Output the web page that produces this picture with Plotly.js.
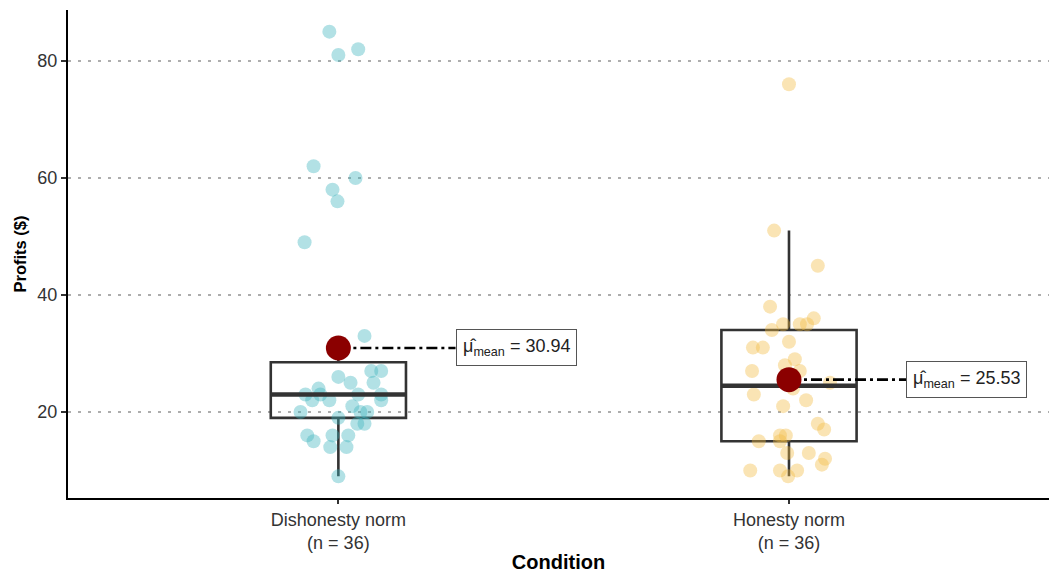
<!DOCTYPE html>
<html>
<head>
<meta charset="utf-8">
<script src="https://cdn.plot.ly/plotly-3.0.1.min.js"></script>
<style>html,body{margin:0;padding:0;background:#fff;}#chart{width:1049px;height:573px;}</style>
</head>
<body>
<div id="chart"></div>
<script>
// ---- data ----
const categories = ["Dishonesty norm", "Honesty norm"];
const tickLabels = ["Dishonesty norm<br>(n = 36)", "Honesty norm<br>(n = 36)"];
const catPos = [1, 2];

const dishonestyProfits = [85, 82, 81, 62, 60, 58, 56, 49, 33, 27, 26, 27, 25, 24, 25, 23, 23, 23, 23,
  22, 22, 22, 20, 20, 20, 21, 19, 18, 18, 16, 16, 16, 15, 14, 14, 9];
const dishonestyJitter = [-0.020, 0.044, 0.000, -0.055, 0.038, -0.013, -0.002, -0.075, 0.058, 0.095, 0.000,
  0.073, 0.078, -0.044, 0.027, -0.073, -0.040, 0.044, 0.095, -0.058, -0.020, 0.095, -0.084, 0.049, 0.064,
  0.031, 0.000, 0.042, 0.058, -0.069, -0.013, 0.022, -0.055, -0.018, 0.018, 0.000];

const honestyProfits = [76, 51, 45, 38, 36, 35, 35, 35, 34, 32, 31, 31, 29, 28, 27, 27, 26, 25, 24, 23, 22, 21,
  18, 17, 16, 16, 15, 15, 13, 13, 12, 11, 10, 10, 10, 9];
const honestyJitter = [0.000, -0.033, 0.064, -0.042, 0.055, -0.013, 0.024, 0.040, -0.038, 0.000, -0.080, -0.058,
  0.013, -0.009, -0.082, 0.024, 0.002, 0.091, 0.009, -0.078, 0.038, -0.013, 0.064, 0.078, -0.020, -0.007,
  -0.067, -0.020, -0.004, 0.044, 0.080, 0.073, -0.086, -0.020, 0.018, -0.002];

// box summary
const q1 = [19, 15];
const medians = [23, 24.5];
const q3 = [28.5, 34];
const lowerWhisker = [9, 9];
const upperWhisker = [33, 51];

const means = [30.94, 25.53];
const meanLabels = ["30.94", "25.53"];

// ---- styles ----
const pointColors = ["rgba(62,180,190,0.4)", "rgba(242,187,67,0.4)"];
const boxHalf = 0.15;
const labelOffset = 0.26;
const FONT = "Liberation Sans, Arial, sans-serif";

const traces = [];
const groups = [[dishonestyProfits, dishonestyJitter], [honestyProfits, honestyJitter]];
groups.forEach((g, i) => {
  traces.push({
    type: "scatter", mode: "markers",
    x: g[1].map(j => catPos[i] + j), y: g[0],
    marker: {size: 14, color: pointColors[i], line: {width: 0}},
    hoverinfo: "y", showlegend: false
  });
});

traces.push({
  type: "box", x: catPos, q1: q1, median: medians, q3: q3,
  lowerfence: lowerWhisker, upperfence: upperWhisker,
  width: 0.3, whiskerwidth: 0, boxpoints: false,
  fillcolor: "rgba(0,0,0,0)", line: {color: "#333333", width: 2.6},
  showlegend: false, hoverinfo: "skip"
});

catPos.forEach((c, i) => {
  traces.push({
    type: "scatter", mode: "lines",
    x: [c - boxHalf, c + boxHalf], y: [medians[i], medians[i]],
    line: {color: "#333333", width: 4.5}, showlegend: false, hoverinfo: "skip"
  });
  traces.push({
    type: "scatter", mode: "lines",
    x: [c, c + labelOffset], y: [means[i], means[i]],
    line: {color: "#000000", width: 2.6, dash: "11px,4px,3px,4px"},
    showlegend: false, hoverinfo: "skip"
  });
});

traces.push({
  type: "scatter", mode: "markers", x: catPos, y: means,
  marker: {size: 25, color: "#8B0000", line: {width: 0}},
  showlegend: false, hoverinfo: "y"
});

const annotations = catPos.map((c, i) => ({
  x: c + labelOffset, y: means[i], xref: "x", yref: "y",
  xanchor: "left", yanchor: "middle", showarrow: false,
  text: "μ\u0302<sub>mean</sub> = " + meanLabels[i],
  font: {family: FONT, size: 18, color: "#222222"},
  bgcolor: "#ffffff", bordercolor: "#555555", borderwidth: 1, borderpad: 6
}));

const layout = {
  width: 1049, height: 573,
  margin: {l: 68, r: 0, t: 10, b: 75},
  paper_bgcolor: "#ffffff", plot_bgcolor: "#ffffff",
  font: {family: FONT, color: "#333333"},
  showlegend: false,
  xaxis: {
    range: [0.4, 2.577], tickvals: catPos, ticktext: tickLabels,
    showgrid: false, zeroline: false,
    showline: true, linecolor: "#000000", linewidth: 2,
    ticks: "outside", ticklen: 4, tickwidth: 2, tickcolor: "#333333",
    tickfont: {family: FONT, size: 18, color: "#333333"},
    title: {text: "<b>Condition</b>", font: {family: FONT, size: 20, color: "#000000"}, standoff: 4}
  },
  yaxis: {
    range: [5.3, 88.7], tickvals: [20, 40, 60, 80],
    showgrid: true, gridcolor: "#adadad", gridwidth: 2.5, griddash: "3px,7px",
    zeroline: false, showline: true, linecolor: "#000000", linewidth: 2,
    ticks: "outside", ticklen: 5, tickwidth: 2, tickcolor: "#333333",
    tickfont: {family: FONT, size: 18, color: "#333333"},
    title: {text: "<b>Profits ($)</b>", font: {family: FONT, size: 16.5, color: "#000000"}, standoff: 7}
  },
  annotations: annotations
};

Plotly.newPlot("chart", traces, layout, {displayModeBar: false, staticPlot: true});
</script>
</body>
</html>
